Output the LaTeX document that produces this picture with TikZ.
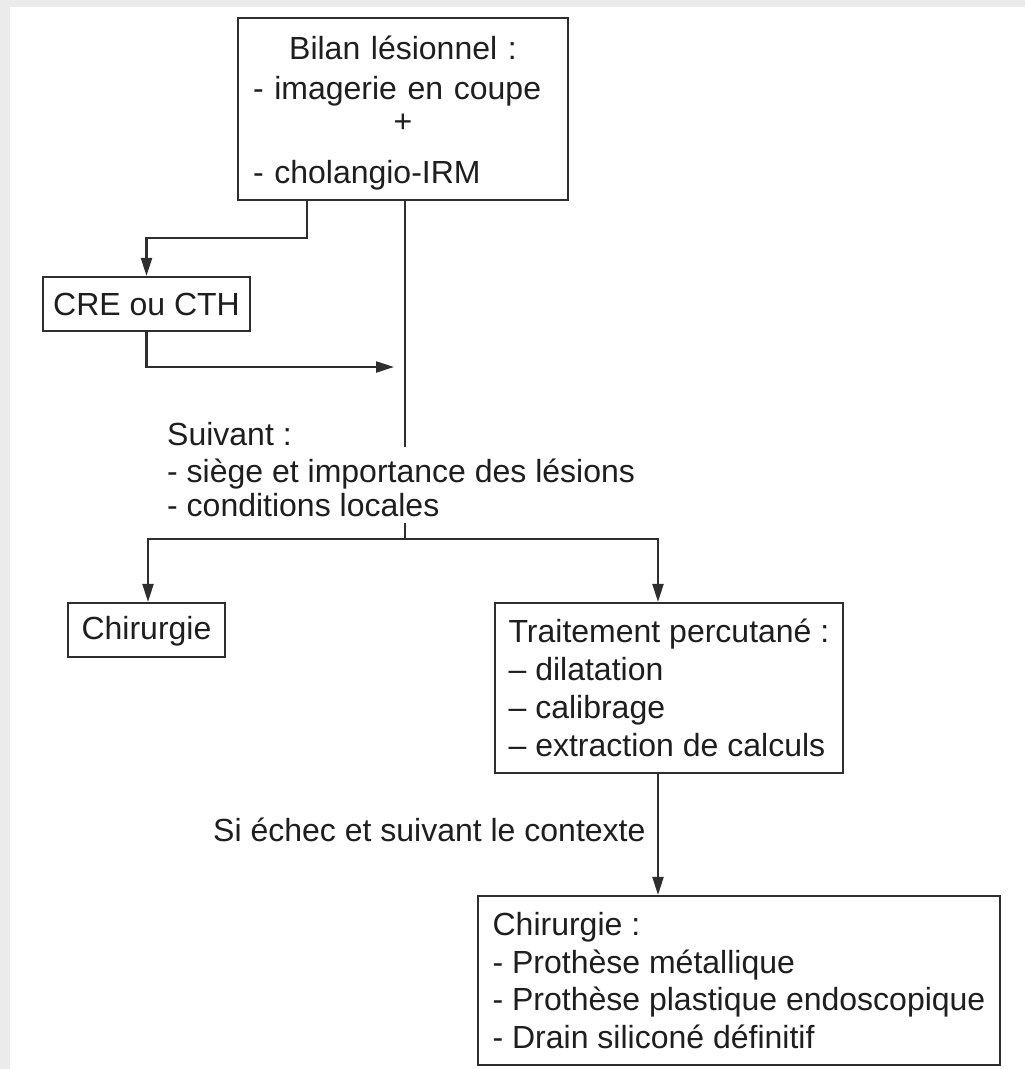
\documentclass[tikz,border=0pt]{standalone}
\usepackage{fontspec}
\setmainfont{Liberation Sans}
\usetikzlibrary{arrows.meta}
\definecolor{ink}{HTML}{1E1E1E}
\definecolor{linec}{HTML}{2E2E2E}
\definecolor{framegray}{HTML}{EBEBEB}
\begin{document}
\begin{tikzpicture}[x=1pt,y=-1pt,
  font=\fontsize{32}{37.5}\selectfont,
  every node/.style={text=ink},
  box/.style={draw=linec, line width=2.2pt, fill=white, inner ysep=0pt, inner xsep=0pt, align=left},
  plain/.style={inner sep=0pt, align=left},
  conn/.style={draw=linec, line width=2.2pt},
  arr/.style={conn, -{Triangle[length=18pt,width=11pt]}}]
\useasboundingbox (0,0) rectangle (1025,1069);
\fill[white] (0,0) rectangle (1025,1069);
\fill[framegray] (0,0) rectangle (1025,7);
\fill[framegray] (0,0) rectangle (10,1069);

% boxes
\node[box, minimum width=330pt, minimum height=182pt, text width=300pt] (bilan) at (403,109)
  {\rule{0pt}{32pt}\makebox[300pt][c]{Bilan lésionnel :}\\[3pt]
   - imagerie en coupe\\[-5pt]
   \makebox[300pt][c]{+}\\[14pt]
   - cholangio-IRM};
\node[box, minimum width=207pt, minimum height=54pt, text height=23pt, text depth=0pt] (cre) at (146.5,304) {CRE ou CTH};
\node[box, minimum width=157pt, minimum height=54pt, text height=23pt, text depth=4pt] (chir) at (146.5,630) {Chirurgie};
\node[box, minimum width=348pt, minimum height=170pt] (trait) at (669,688)
  {Traitement percutané :\\[0.5pt]
   – dilatation\\[0.5pt]
   – calibrage\\[0.5pt]
   – extraction de calculs};
\node[box, minimum width=522pt, minimum height=169pt] (chir2) at (739,980.5)
  {Chirurgie :\\
   - Prothèse métallique\\
   - Prothèse plastique endoscopique\\
   - Drain siliconé définitif};

% free texts
\node[plain, anchor=west] (suiv) at (167,470)
  {Suivant :\\[-1pt]
   - siège et importance des lésions\\[-3pt]
   - conditions locales};
\node[plain, anchor=west] (echec) at (213,830) {Si échec et suivant le contexte};

% helper coordinates
\coordinate (b1) at (307,238);
\coordinate (m1) at (394,367);
\coordinate (v1) at (405,447);
\coordinate (v2) at (405,523);
\coordinate (j)  at (405,539);
\coordinate (jl) at (148,539);
\coordinate (jr) at (658,539);

% connectors
\draw[arr] (bilan.south -| b1) -- (b1) -| (cre.north);
\draw[arr] (cre.south) |- (m1);
\draw[conn] (bilan.south -| v1) -- (v1);
\draw[conn] (v2) -- (j);
\draw[arr] (j) -- (jl) -- (chir.north -| jl);
\draw[arr] (j) -- (jr) -- (trait.north -| jr);
\draw[arr] (trait.south -| jr) -- (chir2.north -| jr);
\end{tikzpicture}
\end{document}
